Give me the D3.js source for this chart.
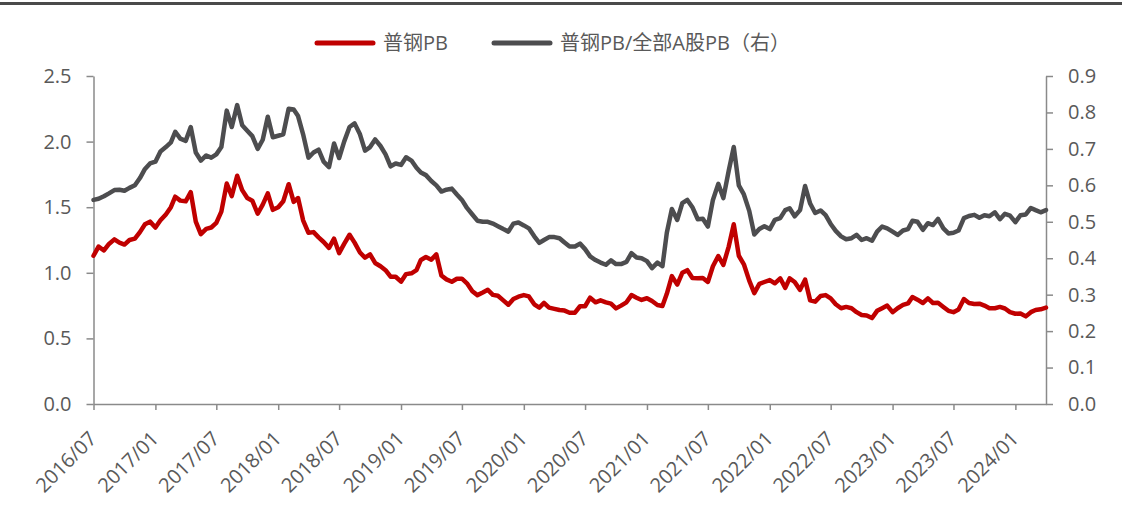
<!DOCTYPE html>
<html>
<head>
<meta charset="utf-8">
<script src="https://cdn.jsdelivr.net/npm/d3@7"></script>
<style>
  body { margin: 0; background: #fff; }
  svg { display: block; }
  text { font-family: "Open Sans", "Noto Sans CJK SC", sans-serif; fill: #595959; }
</style>
</head>
<body>
<svg id="chart" width="1122" height="506"></svg>
<script>
// semi-monthly observation dates, 2016/07 - 2024/04
const startMonth = new Date(2016, 6, 1);
const endDate = new Date(2024, 3, 1);
const dates = d3.timeMonth.range(startMonth, endDate)
  .flatMap(d => [d, d3.timeDay.offset(d, 15)])
  .concat([endDate]);

// 普钢PB (left axis)
const steelPB = [
  1.13,1.20,1.17,1.22,1.255,1.23,1.215,1.25,1.26,1.31,
  1.37,1.39,1.345,1.40,1.445,1.50,1.58,1.55,1.545,1.615,
  1.39,1.295,1.335,1.345,1.38,1.466,1.68,1.585,1.74,1.63,
  1.57,1.55,1.45,1.52,1.605,1.48,1.50,1.545,1.675,1.54,
  1.57,1.40,1.305,1.31,1.27,1.235,1.19,1.26,1.15,1.22,
  1.29,1.23,1.155,1.115,1.14,1.075,1.05,1.02,0.97,0.97,
  0.932,0.99,0.996,1.02,1.098,1.12,1.10,1.14,0.98,0.95,
  0.932,0.955,0.955,0.92,0.86,0.83,0.85,0.87,0.832,0.825,
  0.79,0.757,0.80,0.818,0.83,0.82,0.76,0.735,0.77,0.735,
  0.725,0.716,0.712,0.695,0.696,0.745,0.745,0.81,0.775,0.79,
  0.775,0.765,0.729,0.75,0.775,0.83,0.81,0.793,0.806,0.785,
  0.755,0.747,0.84,0.975,0.91,1.00,1.02,0.96,0.958,0.96,
  0.93,1.05,1.128,1.06,1.20,1.37,1.13,1.065,0.94,0.845,
  0.915,0.93,0.945,0.92,0.958,0.885,0.958,0.93,0.87,0.948,
  0.79,0.78,0.823,0.83,0.805,0.76,0.73,0.74,0.73,0.70,
  0.678,0.675,0.655,0.71,0.73,0.75,0.70,0.73,0.755,0.767,
  0.815,0.795,0.77,0.805,0.77,0.772,0.74,0.71,0.70,0.72,
  0.80,0.77,0.762,0.765,0.75,0.73,0.73,0.74,0.728,0.70,
  0.688,0.69,0.668,0.70,0.716,0.722,0.735
];

// 普钢PB/全部A股PB (right axis)
const relPB = [
  .560,.563,.570,.578,.587,.588,.585,.593,.600,.620,
  .645,.660,.665,.693,.705,.718,.747,.728,.722,.760,
  .690,.668,.682,.676,.685,.705,.805,.760,.820,.765,
  .750,.735,.700,.725,.788,.732,.736,.740,.810,.808,
  .790,.740,.676,.690,.698,.665,.650,.715,.675,.720,
  .760,.770,.740,.695,.705,.726,.708,.685,.652,.660,
  .656,.677,.668,.648,.635,.628,.612,.600,.583,.588,
  .591,.575,.560,.538,.520,.503,.500,.500,.495,.488,
  .480,.473,.495,.498,.490,.482,.460,.442,.450,.458,
  .458,.455,.443,.432,.432,.440,.425,.405,.395,.388,
  .382,.394,.384,.384,.390,.414,.402,.400,.392,.373,
  .388,.378,.470,.535,.505,.551,.560,.540,.507,.508,
  .487,.560,.604,.565,.640,.705,.600,.575,.530,.465,
  .480,.488,.480,.505,.510,.532,.537,.515,.532,.598,
  .550,.524,.531,.518,.494,.475,.460,.452,.455,.464,
  .450,.455,.448,.473,.487,.482,.473,.464,.476,.480,
  .503,.500,.478,.496,.491,.508,.482,.468,.470,.476,
  .510,.516,.519,.511,.518,.515,.526,.507,.522,.517,
  .499,.518,.520,.538,.532,.526,.532
];

const leftTicks = [0, 0.5, 1.0, 1.5, 2.0, 2.5];
const rightTicks = [0, 0.1, 0.2, 0.3, 0.4, 0.5, 0.6, 0.7, 0.8, 0.9];
const xTickDates = d3.timeMonth.every(6).range(new Date(2016, 6, 1), new Date(2024, 1, 1));
const seriesNames = ["普钢PB", "普钢PB/全部A股PB（右）"];
const colors = ["#C00000", "#4D4D4F"];

const svg = d3.select("#chart");
const margin = { top: 76, bottom: 102, left: 93.5, right: 76 };
const W = +svg.attr("width"), H = +svg.attr("height");

const x = d3.scaleTime().domain([dates[0], dates[dates.length - 1]]).range([margin.left, W - margin.right]);
const yL = d3.scaleLinear().domain([0, 2.5]).range([H - margin.bottom, margin.top]);
const yR = d3.scaleLinear().domain([0, 0.9]).range([H - margin.bottom, margin.top]);

// top border
svg.append("line")
  .attr("x1", 0).attr("x2", W).attr("y1", 3.5).attr("y2", 3.5)
  .attr("stroke", "#4a4a4a").attr("stroke-width", 3);

const axisColor = "#8a8a8a";
function styleAxis(g) {
  g.select(".domain").attr("stroke", axisColor).attr("stroke-width", 1.5);
  g.selectAll(".tick line").attr("stroke", axisColor).attr("stroke-width", 1.5);
  g.selectAll(".tick text").style("font-size", "20px").attr("fill", "#595959");
}

// left axis
svg.append("g")
  .attr("transform", `translate(${margin.left},0)`)
  .call(d3.axisLeft(yL).tickValues(leftTicks).tickFormat(d3.format(".1f")).tickSize(7).tickSizeOuter(0).tickPadding(15))
  .call(styleAxis);

// right axis
svg.append("g")
  .attr("transform", `translate(${W - margin.right},0)`)
  .call(d3.axisRight(yR).tickValues(rightTicks).tickFormat(d3.format(".1f")).tickSize(7).tickSizeOuter(0).tickPadding(15))
  .call(styleAxis);

// bottom axis
const xAxis = svg.append("g")
  .attr("transform", `translate(0,${H - margin.bottom})`)
  .call(d3.axisBottom(x).tickValues(xTickDates).tickFormat(d3.timeFormat("%Y/%m")).tickSize(6).tickSizeOuter(0))
  .call(styleAxis);
xAxis.selectAll(".tick text")
  .attr("text-anchor", "end")
  .attr("transform", "translate(-1,31) rotate(-45)")
  .attr("dy", "0.35em")
  .attr("y", 0)
  .attr("x", 0);

// lines
const lineL = d3.line().x((d, i) => x(dates[i])).y(d => yL(d));
const lineR = d3.line().x((d, i) => x(dates[i])).y(d => yR(d));

svg.append("path")
  .datum(relPB)
  .attr("fill", "none")
  .attr("stroke", colors[1])
  .attr("stroke-width", 4.5)
  .attr("stroke-linejoin", "round")
  .attr("stroke-linecap", "round")
  .attr("d", lineR);

svg.append("path")
  .datum(steelPB)
  .attr("fill", "none")
  .attr("stroke", colors[0])
  .attr("stroke-width", 4.5)
  .attr("stroke-linejoin", "round")
  .attr("stroke-linecap", "round")
  .attr("d", lineL);

// legend
const legendPos = [317, 494];
const legend = svg.append("g");
seriesNames.forEach((name, i) => {
  legend.append("line")
    .attr("x1", legendPos[i]).attr("x2", legendPos[i] + 56)
    .attr("y1", 43).attr("y2", 43)
    .attr("stroke", colors[i]).attr("stroke-width", 5).attr("stroke-linecap", "round");
  legend.append("text")
    .attr("x", legendPos[i] + 66).attr("y", 43).attr("dy", "0.35em")
    .style("font-size", "20px")
    .text(name);
});
</script>
</body>
</html>
